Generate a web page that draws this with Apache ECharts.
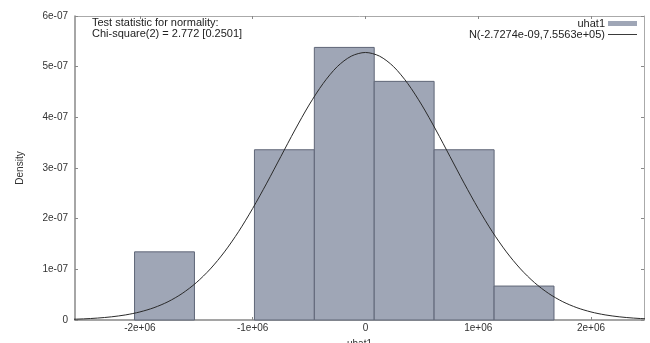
<!DOCTYPE html>
<html>
<head>
<meta charset="UTF-8">
<script src="https://cdn.jsdelivr.net/npm/echarts@6/dist/echarts.min.js"></script>
<style>
  body { margin: 0; background: #fff; }
  #root { width: 650px; height: 343px; }
</style>
</head>
<body>
<div id="root"></div>
<script>
  // histogram bins: left edge, right edge, density
  var binLeft = [-2047000, -984000, -453000, 78000, 609000, 1141000];
  var binRight = [-1516000, -453000, 78000, 609000, 1141000, 1672000];
  var density = [1.345e-7, 3.36e-7, 5.38e-7, 4.71e-7, 3.36e-7, 0.67e-7];

  // normal curve (x in units, y density)
  var curveX = [-2750000, -2625000, -2500000, -2375000, -2250000, -2125000, -2000000, -1875000, -1750000, -1625000,
    -1500000, -1375000, -1250000, -1125000, -1000000, -875000, -750000, -625000, -500000, -375000, -250000, -125000,
    0, 125000, 250000, 375000, 500000, 625000, 750000, 875000, 1000000, 1125000, 1250000, 1375000, 1500000,
    1625000, 1750000, 1875000, 2000000, 2125000, 2250000, 2375000, 2500000, 2625000, 2750000];
  var curveY = [0.007e-7, 0.013e-7, 0.022e-7, 0.038e-7, 0.063e-7, 0.101e-7, 0.159e-7, 0.243e-7, 0.361e-7, 0.523e-7,
    0.736e-7, 1.008e-7, 1.344e-7, 1.743e-7, 2.200e-7, 2.701e-7, 3.226e-7, 3.750e-7, 4.242e-7, 4.668e-7, 5.000e-7, 5.208e-7,
    5.28e-7, 5.208e-7, 5.000e-7, 4.668e-7, 4.242e-7, 3.750e-7, 3.226e-7, 2.701e-7, 2.200e-7, 1.743e-7, 1.344e-7, 1.008e-7, 0.736e-7,
    0.523e-7, 0.361e-7, 0.243e-7, 0.159e-7, 0.101e-7, 0.063e-7, 0.038e-7, 0.022e-7, 0.013e-7, 0.007e-7];

  var xTicks = [-2000000, -1000000, 0, 1000000, 2000000];
  var histName = 'uhat1';
  var curveName = 'N(-2.7274e-09,7.5563e+05)';

  var font = 'Liberation Sans, Arial, sans-serif';
  var chart = echarts.init(document.getElementById('root'));

  var bars = binLeft.map(function (l, i) { return [l, binRight[i], density[i]]; });
  var curve = curveX.map(function (x, i) { return [x, curveY[i]]; });

  function fmtX(v) { return v === 0 ? '0' : Math.round(v / 1e6) + 'e+06'; }
  function fmtY(v) { return v === 0 ? '0' : Math.round(v * 1e7) + 'e-07'; }

  var xMin = -2575000, xMax = 2470000;

  chart.setOption({
    animation: false,
    textStyle: { fontFamily: font },
    grid: { left: 75, right: 6, top: 16, bottom: 23, outerBoundsMode: 'none', containLabel: false },
    title: {
      text: 'Test statistic for normality:\nChi-square(2) = 2.772 [0.2501]',
      left: 92, top: 17, padding: 0,
      textStyle: { fontSize: 11, fontWeight: 'normal', color: '#222', lineHeight: 11, fontFamily: font }
    },
    legend: {
      orient: 'vertical', right: 13, top: 18, align: 'right',
      itemWidth: 29, itemHeight: 5, itemGap: 0, padding: 0,
      textStyle: { fontSize: 11, color: '#222', padding: [0, -2, 0, 0], lineHeight: 10, fontFamily: font },
      data: [
        { name: histName, icon: 'rect', itemStyle: { color: '#9fa6b6' } },
        { name: curveName, icon: 'path://M0,0H30V1H0Z', itemStyle: { color: '#333' } }
      ]
    },
    xAxis: [{
      type: 'value', min: xMin, max: xMax,
      name: 'uhat1', nameLocation: 'middle', nameGap: 19,
      nameTextStyle: { fontSize: 10, color: '#333' },
      splitLine: { show: false },
      axisLine: { onZero: false, lineStyle: { color: '#888', width: 1.5 } },
      axisTick: { inside: true, length: 3, customValues: xTicks, lineStyle: { color: '#888' } },
      axisLabel: { customValues: xTicks, formatter: fmtX, fontSize: 10, color: '#333', margin: 3 }
    }, {
      type: 'value', min: xMin, max: xMax, position: 'top',
      splitLine: { show: false },
      axisLine: { onZero: false, lineStyle: { color: '#aaa', width: 1 } },
      axisTick: { inside: true, length: 3, customValues: xTicks, lineStyle: { color: '#888' } },
      axisLabel: { show: false }
    }],
    yAxis: [{
      type: 'value', min: 0, max: 6e-7, interval: 1e-7,
      name: 'Density', nameLocation: 'middle', nameGap: 50, nameRotate: 90,
      nameTextStyle: { fontSize: 10, color: '#333' },
      splitLine: { show: false },
      axisLine: { show: true, onZero: false, lineStyle: { color: '#888', width: 1.5 } },
      axisTick: { show: true, inside: true, length: 3, lineStyle: { color: '#888' } },
      axisLabel: { formatter: fmtY, fontSize: 10, color: '#333', margin: 7 }
    }, {
      type: 'value', min: 0, max: 6e-7, interval: 1e-7, position: 'right',
      splitLine: { show: false },
      axisLine: { show: true, onZero: false, lineStyle: { color: '#aaa', width: 1 } },
      axisTick: { show: true, inside: true, length: 3, lineStyle: { color: '#888' } },
      axisLabel: { show: false }
    }],
    series: [{
      name: histName,
      type: 'custom',
      xAxisIndex: 0, yAxisIndex: 0,
      renderItem: function (params, api) {
        var p0 = api.coord([api.value(0), api.value(2)]);
        var p1 = api.coord([api.value(1), 0]);
        return {
          type: 'rect',
          shape: { x: p0[0], y: p0[1], width: p1[0] - p0[0], height: p1[1] - p0[1] },
          style: { fill: '#9fa6b6', stroke: '#5f6677', lineWidth: 1 }
        };
      },
      encode: { x: [0, 1], y: 2 },
      data: bars
    }, {
      name: curveName,
      type: 'line',
      xAxisIndex: 0, yAxisIndex: 0,
      symbol: 'none',
      smooth: 0.3,
      clip: true,
      lineStyle: { color: '#2a2a2a', width: 1 },
      itemStyle: { color: '#2a2a2a' },
      data: curve,
      z: 3
    }]
  });
</script>
</body>
</html>
